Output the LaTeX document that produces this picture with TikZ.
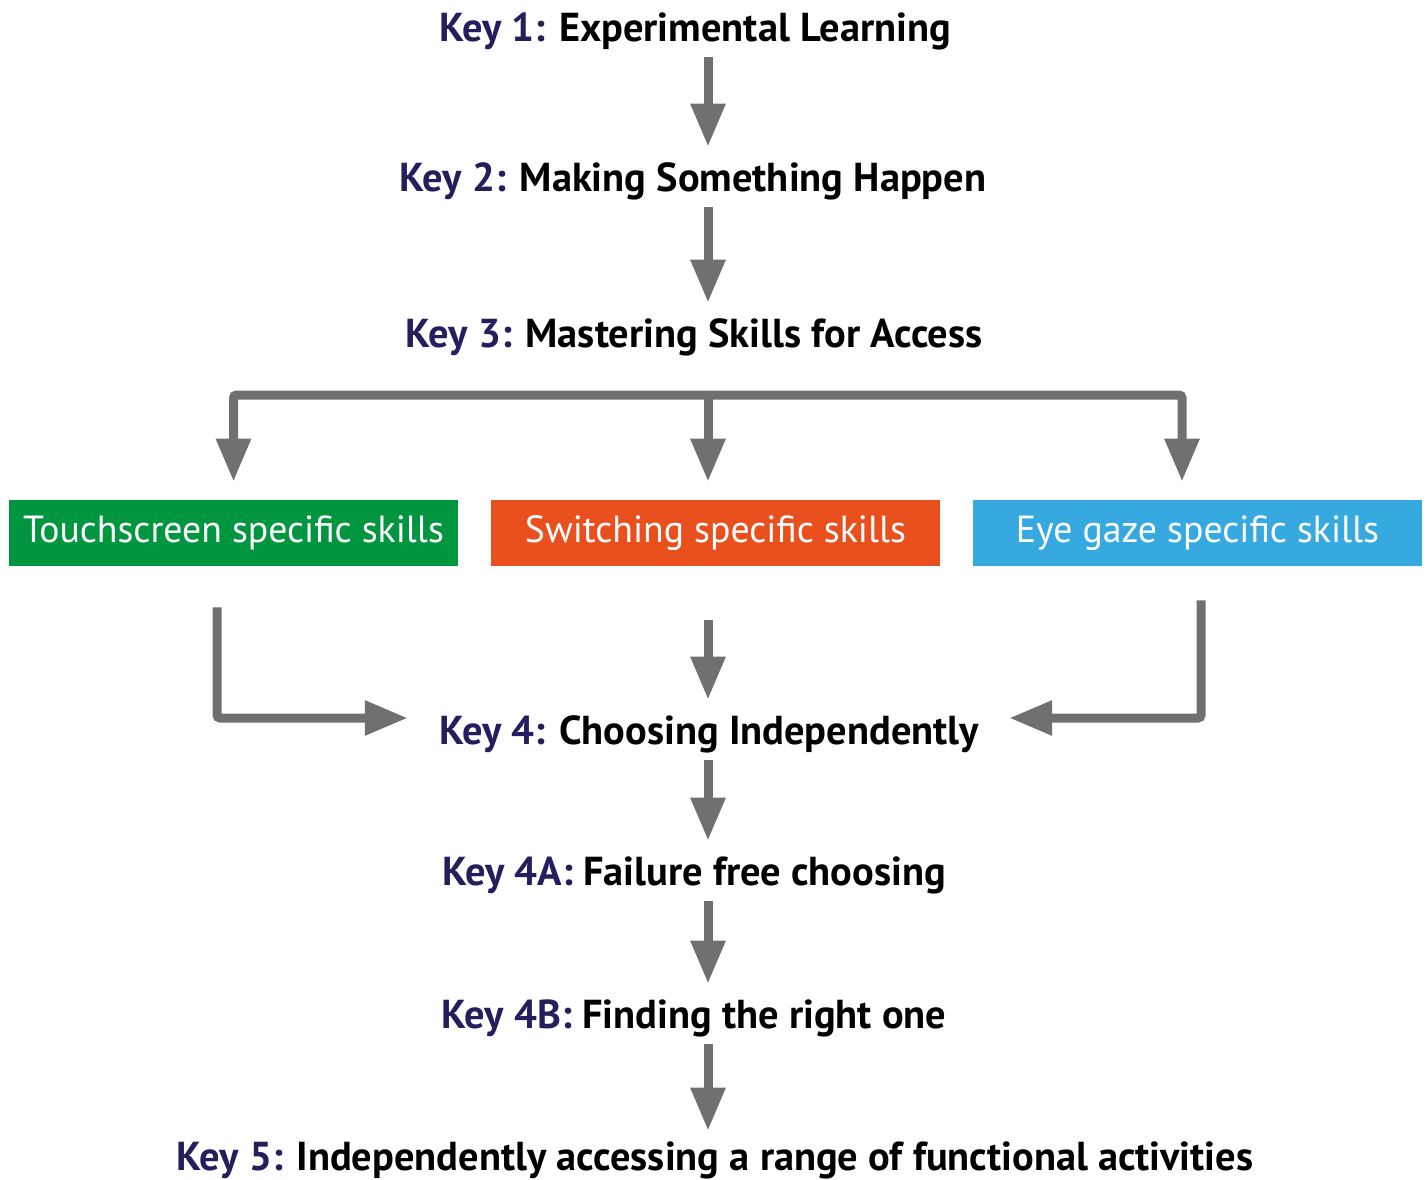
\documentclass[tikz,border=0pt]{standalone}
\usepackage{fontspec}
\setmainfont{PT Sans}
\usetikzlibrary{arrows.meta,calc}

\definecolor{keyblue}{HTML}{231F5C}
\definecolor{arrowgrey}{HTML}{707070}
\definecolor{touchgreen}{HTML}{009640}
\definecolor{switchorange}{HTML}{E9501E}
\definecolor{gazeblue}{HTML}{36A9E1}

\newcommand{\keylabel}[2]{\textcolor{keyblue}{#1:} #2}

\tikzset{
  keytext/.style={font=\fontsize{23}{27}\selectfont\bfseries, inner sep=0pt, text depth=0pt,
                  minimum height=1.2cm},
  skillbox/.style={minimum width=8.98cm, minimum height=1.32cm, inner sep=0pt, text=white,
                   font=\fontsize{21.5}{25}\selectfont},
  flow/.style={draw=arrowgrey, line width=0.18cm, rounded corners=0.06cm,
               -{Triangle[width=0.66cm,length=0.86cm]}},
  twoflow/.style={flow, {Triangle[width=0.66cm,length=0.86cm]}-{Triangle[width=0.66cm,length=0.86cm]}},
}

\begin{document}
\begin{tikzpicture}[x=0.02cm, y=-0.02cm]
    \useasboundingbox (0,0) rectangle (1427,1180);

    \coordinate (spine) at (708,0);
    \coordinate (split) at (708,395);

    % the keys
    \node[keytext] (k1)  at (695,27)   {\keylabel{Key 1}{Experimental Learning}};
    \node[keytext] (k2)  at (693,177)  {\keylabel{Key 2}{Making Something Happen}};
    \node[keytext] (k3)  at (694,333)  {\keylabel{Key 3}{Mastering Skills for Access}};
    \node[keytext] (k4)  at (709,730)  {\keylabel{Key 4}{Choosing Independently}};
    \node[keytext] (k4a) at (694,871)  {\keylabel{Key 4A}{Failure free choosing}};
    \node[keytext] (k4b) at (694,1014) {\keylabel{Key 4B}{Finding the right one}};
    \node[keytext] (k5)  at (715,1156) {\keylabel{Key 5}{Independently accessing a range of functional activities}};

    % the three ways of access
    \node[skillbox, fill=touchgreen]   (touch)  at (233.5,533)  {Touchscreen specific skills};
    \node[skillbox, fill=switchorange] (switch) at (715.5,533)  {Switching specific skills};
    \node[skillbox, fill=gazeblue]     (gaze)   at (1197.5,533) {Eye gaze specific skills};

    \draw[flow] (k1.south -| spine) -- (k2.north -| spine);
    \draw[flow] (k2.south -| spine) -- (k3.north -| spine);

    \draw[twoflow] ($(touch.north)+(0,-18)$) |- (split) -| ($(gaze.north)+(-15.5,-18)$);
    \draw[flow] (split) -- ($(split |- switch.north)+(0,-18)$);

    \draw[flow] ($(touch.south)+(-16.5,41)$) |- ($(k4.west)+(-31,-12)$);
    \draw[flow] ($(switch.south)+(-7.5,54)$) -- (k4.north -| spine);
    \draw[flow] ($(gaze.south)+(3.5,34)$) |- ($(k4.east)+(30,-12)$);

    \draw[flow] (k4.south -| spine)  -- (k4a.north -| spine);
    \draw[flow] (k4a.south -| spine) -- (k4b.north -| spine);
    \draw[flow] (k4b.south -| spine) -- ($(k5.north -| spine)+(0,5)$);
\end{tikzpicture}
\end{document}
